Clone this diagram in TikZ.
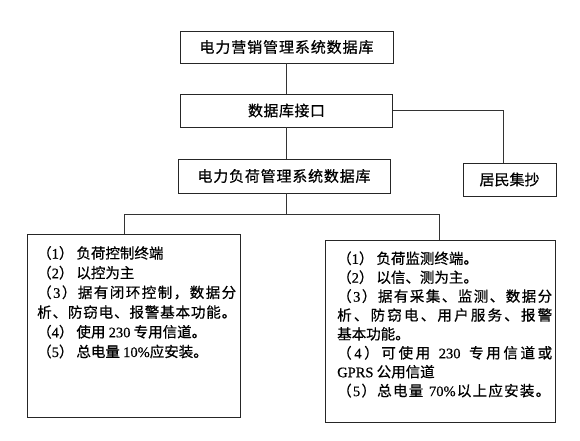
\documentclass[tikz,border=0pt]{standalone}
\usepackage{fontspec}
\setmainfont{Liberation Serif}[FakeBold=0.6]
\newfontfamily\cjk{Noto Sans CJK SC}[FakeBold=0.6]
\newcommand\lt[1]{{\rmfamily #1}}
\ExplSyntaxOn
\newcommand\spread[2]{\makebox[#1][s]{\tl_map_inline:nn {#2}{##1\hskip 0pt plus 1fil}\unskip}}
\ExplSyntaxOff
\begin{document}
\begin{tikzpicture}[x=1pt,y=-1pt,
  box/.style={draw=black!85, line width=0.8pt, inner sep=0pt, fill=white,
    font=\cjk\fontsize{15}{18}\selectfont},
  txt/.style={anchor=west, inner sep=0pt, font=\cjk\fontsize{14.5}{17}\selectfont},
  conn/.style={draw=black!80, line width=0.8pt}]
\useasboundingbox[fill=white] (0,0) rectangle (580,441);

% title boxes
\node[box, minimum width=213pt, minimum height=32pt] (b1) at (286.5,47)
  {\spread{174pt}{电力营销管理系统数据库}};
\node[box, minimum width=212pt, minimum height=33pt] (b2) at (286.5,110.5)
  {\spread{77pt}{数据库接口}};
\node[box, minimum width=212pt, minimum height=34pt] (b3) at (284,176)
  {\spread{173pt}{电力负荷管理系统数据库}};
\node[box, minimum width=93pt, minimum height=33pt] (b4) at (509.5,179.5)
  {居民集抄};

% content boxes
\node[box, minimum width=213pt, minimum height=183pt] (b5) at (133.5,325.5) {};
\node[box, minimum width=230pt, minimum height=182pt] (b6) at (440,331) {};

% connectors
\coordinate (kx) at (503,0);
\coordinate (j) at (286.5,214);
\coordinate (jl) at (124,214);
\coordinate (jr) at (439,214);
\draw[conn] (b1.south) -- (b2.north);
\draw[conn] (b2.south) -- (b2.south |- b3.north);
\draw[conn] (b2.east) -- (b2.east -| kx) -- (b4.north -| kx);
\draw[conn] (b3.south -| j) -- (j);
\draw[conn] (b5.north -| jl) -- (jl) -- (jr) -- (b6.north -| jr);

% left box text
\node[txt] (l1) at (37,253) {（\lt{1}）\hspace{3pt}负荷控制终端};
\node[txt] (l2) at (37,272.7) {（\lt{2}）\hspace{3pt}以控为主};
\node[txt] (l3) at (37,292.4) {\spread{199pt}{（{\lt{3}}）据有闭环控制，数据分}};
\node[txt] (l4) at (37,312.1) {\spread{199pt}{析、防窃电、报警基本功能。}};
\node[txt] (l5) at (37,331.8) {（\lt{4}）\hspace{3pt}使用 \lt{230} 专用信道。};
\node[txt] (l6) at (37,351.5) {（\lt{5}）\hspace{3pt}总电量 \lt{10\%}应安装。};

% right box text
\node[txt] (r1) at (337,258.3) {（\lt{1}）\hspace{3pt}负荷监测终端。};
\node[txt] (r2) at (337,277.2) {（\lt{2}）\hspace{3pt}以信、测为主。};
\node[txt] (r3) at (337,296.1) {\spread{215pt}{（{\lt{3}}）据有采集、监测、数据分}};
\node[txt] (r4) at (337,315) {\spread{215pt}{析、防窃电、用户服务、报警}};
\node[txt] (r5) at (337,333.9) {基本功能。};
\node[txt] (r6) at (337,352.8) {\spread{215pt}{（{\lt{4}}）可使用{\ }{\lt{230}}{\ }专用信道或}};
\node[txt] (r7) at (337,371.7) {\lt{GPRS} 公用信道};
\node[txt] (r8) at (337,390.6) {\spread{213pt}{（{\lt{5}}）总电量{\ }{\lt{70\%}}以上应安装。}};
\end{tikzpicture}
\end{document}
